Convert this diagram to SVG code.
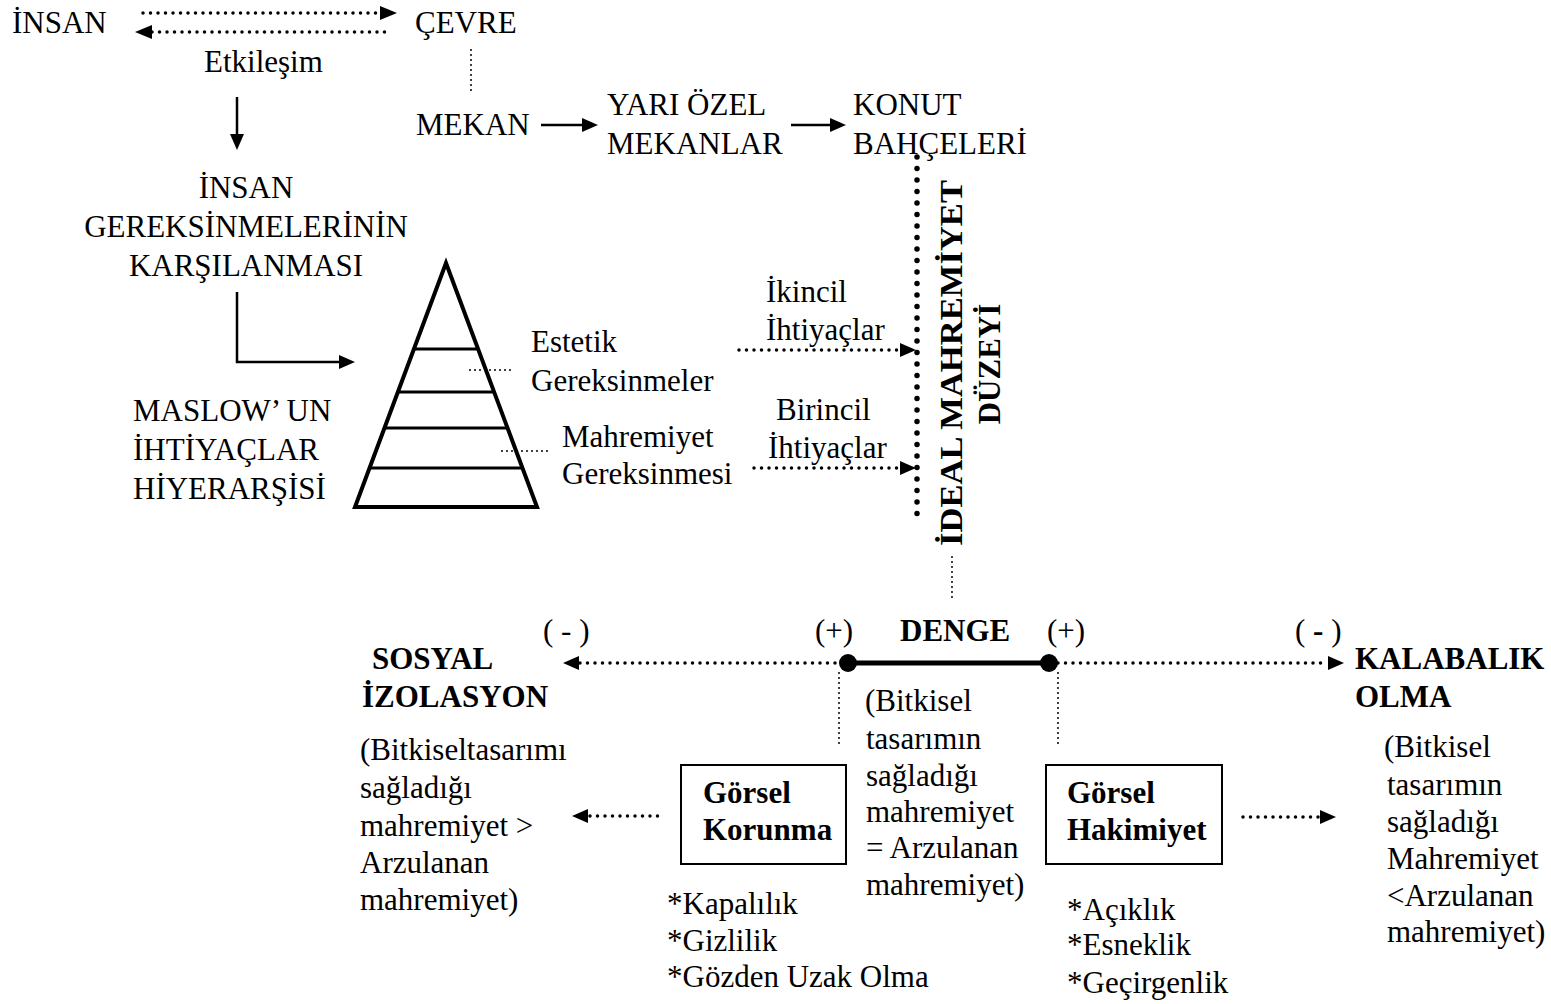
<svg xmlns="http://www.w3.org/2000/svg" width="1551" height="1004" viewBox="0 0 1551 1004">
<style>
text{font-family:"Liberation Serif","Times New Roman",serif;font-size:31px;fill:#000}
.b{font-weight:bold}
.dot{fill:none;stroke:#000;stroke-width:3.5;stroke-dasharray:0 7.5;stroke-linecap:round}
.fine{fill:none;stroke:#000;stroke-width:2;stroke-dasharray:0 5;stroke-linecap:round}
.big{fill:none;stroke:#000;stroke-width:5.5;stroke-dasharray:0 11.5;stroke-linecap:round}
.sol{fill:none;stroke:#000;stroke-width:2.5}
.thick{fill:none;stroke:#000;stroke-width:5}
.head{fill:#000}
.box{fill:#fff;stroke:#000;stroke-width:2}
.tier{stroke:#000;stroke-width:3}
</style>
<rect width="1551" height="1004" fill="#fff"/>
<g id="connectors">
  <line class="dot" x1="143" y1="13" x2="381" y2="13"/>
  <polygon class="head" points="397,13 380,6 380,20"/>
  <line class="dot" x1="152" y1="32" x2="391" y2="32"/>
  <polygon class="head" points="135,32 152,25 152,39"/>
  <line class="fine" x1="471" y1="50" x2="471" y2="93"/>
  <line class="sol" x1="237" y1="97" x2="237" y2="136"/>
  <polygon class="head" points="237,150 230,134 244,134"/>
  <line class="sol" x1="541" y1="125" x2="584" y2="125"/>
  <polygon class="head" points="598,125 582,118 582,132"/>
  <line class="sol" x1="791" y1="125" x2="832" y2="125"/>
  <polygon class="head" points="846,125 830,118 830,132"/>
  <path class="sol" d="M237,292 V362 H340"/>
  <polygon class="head" points="355,362 339,355 339,369"/>
  <line class="fine" x1="470" y1="370" x2="512" y2="370"/>
  <line class="fine" x1="502" y1="451" x2="552" y2="451"/>
  <line class="dot" x1="739" y1="350" x2="899" y2="350"/>
  <polygon class="head" points="916,350 900,343 900,357"/>
  <line class="dot" x1="754" y1="468" x2="899" y2="468"/>
  <polygon class="head" points="916,468 900,461 900,475"/>
  <line class="big" x1="917" y1="157" x2="917" y2="514"/>
  <line class="fine" x1="952" y1="557" x2="952" y2="598"/>
  <line class="dot" x1="580" y1="663" x2="846" y2="663"/>
  <polygon class="head" points="563,663 579,656 579,670"/>
  <line class="thick" x1="848" y1="663" x2="1049" y2="663"/>
  <circle class="head" cx="848" cy="663" r="9"/>
  <circle class="head" cx="1049" cy="663" r="9"/>
  <line class="dot" x1="1058" y1="663" x2="1327" y2="663"/>
  <polygon class="head" points="1344,663 1328,656 1328,670"/>
  <line class="fine" x1="839" y1="673" x2="839" y2="746"/>
  <line class="fine" x1="1058" y1="673" x2="1058" y2="746"/>
  <line class="dot" x1="590" y1="816" x2="660" y2="816"/>
  <polygon class="head" points="572,816 588,809 588,823"/>
  <line class="dot" x1="1243" y1="817" x2="1319" y2="817"/>
  <polygon class="head" points="1336,817 1320,810 1320,824"/>
</g>
<g id="insan"><text x="12" y="33">İNSAN</text></g>
<g id="cevre"><text x="415" y="33">ÇEVRE</text></g>
<g id="etkilesim"><text x="204" y="72">Etkileşim</text></g>
<g id="mekan"><text x="416" y="135">MEKAN</text></g>
<g id="yari-ozel"><text x="607" y="115">YARI ÖZEL</text><text x="607" y="154">MEKANLAR</text></g>
<g id="konut"><text x="853" y="115">KONUT</text><text x="853" y="154">BAHÇELERİ</text></g>
<g id="insan-gereksinmeleri">
  <text x="246" y="198" text-anchor="middle">İNSAN</text>
  <text x="246" y="237" text-anchor="middle">GEREKSİNMELERİNİN</text>
  <text x="246" y="276" text-anchor="middle">KARŞILANMASI</text>
</g>
<g id="maslow">
  <text x="133" y="421">MASLOW’ UN</text>
  <text x="133" y="460">İHTİYAÇLAR</text>
  <text x="133" y="499">HİYERARŞİSİ</text>
</g>
<g id="pyramid">
  <polygon points="446,263 355,507 537,507" fill="none" stroke="#000" stroke-width="4" stroke-linejoin="miter"/>
  <line class="tier" x1="414" y1="349" x2="478" y2="349"/>
  <line class="tier" x1="398" y1="392" x2="494" y2="392"/>
  <line class="tier" x1="385" y1="428" x2="507" y2="428"/>
  <line class="tier" x1="370" y1="468" x2="522" y2="468"/>
</g>
<g id="estetik"><text x="531" y="352">Estetik</text><text x="531" y="391">Gereksinmeler</text></g>
<g id="mahremiyet-gereksinmesi"><text x="562" y="447">Mahremiyet</text><text x="562" y="484">Gereksinmesi</text></g>
<g id="ikincil"><text x="766" y="302">İkincil</text><text x="766" y="340">İhtiyaçlar</text></g>
<g id="birincil"><text x="776" y="420">Birincil</text><text x="768" y="458">İhtiyaçlar</text></g>
<g id="ideal">
  <text class="b" transform="translate(962,363) rotate(-90)" text-anchor="middle" textLength="366" lengthAdjust="spacingAndGlyphs">İDEAL MAHREMİYET</text>
  <text class="b" transform="translate(1000,364) rotate(-90)" text-anchor="middle">DÜZEYİ</text>
</g>
<g id="denge">
  <text x="543" y="641">( - )</text>
  <text x="815" y="641">(+)</text>
  <text class="b" x="900" y="641">DENGE</text>
  <text x="1047" y="641">(+)</text>
  <text x="1295" y="641">( <tspan class="b">-</tspan> )</text>
</g>
<g id="sosyal-izolasyon">
  <text class="b" x="372" y="669">SOSYAL</text>
  <text class="b" x="362" y="707">İZOLASYON</text>
</g>
<g id="kalabalik">
  <text class="b" x="1355" y="669">KALABALIK</text>
  <text class="b" x="1355" y="707">OLMA</text>
</g>
<g id="left-desc">
  <text x="360" y="760">(Bitkiseltasarımı</text>
  <text x="360" y="798">sağladığı</text>
  <text x="360" y="836">mahremiyet &gt;</text>
  <text x="360" y="873">Arzulanan</text>
  <text x="360" y="910">mahremiyet)</text>
</g>
<g id="center-desc">
  <text x="865" y="711">(Bitkisel</text>
  <text x="866" y="749">tasarımın</text>
  <text x="866" y="786">sağladığı</text>
  <text x="866" y="822">mahremiyet</text>
  <text x="866" y="858">= Arzulanan</text>
  <text x="866" y="895">mahremiyet)</text>
</g>
<g id="right-desc">
  <text x="1384" y="757">(Bitkisel</text>
  <text x="1387" y="795">tasarımın</text>
  <text x="1387" y="832">sağladığı</text>
  <text x="1387" y="869">Mahremiyet</text>
  <text x="1387" y="906">&lt;Arzulanan</text>
  <text x="1387" y="942">mahremiyet)</text>
</g>
<g id="gorsel-korunma">
  <rect class="box" x="681" y="765" width="165" height="99"/>
  <text class="b" x="703" y="803">Görsel</text>
  <text class="b" x="703" y="840">Korunma</text>
</g>
<g id="gorsel-hakimiyet">
  <rect class="box" x="1046" y="765" width="176" height="99"/>
  <text class="b" x="1067" y="803">Görsel</text>
  <text class="b" x="1067" y="840">Hakimiyet</text>
</g>
<g id="korunma-list">
  <text x="667" y="914">*Kapalılık</text>
  <text x="667" y="951">*Gizlilik</text>
  <text x="667" y="987">*Gözden Uzak Olma</text>
</g>
<g id="hakimiyet-list">
  <text x="1067" y="920">*Açıklık</text>
  <text x="1067" y="955">*Esneklik</text>
  <text x="1067" y="993">*Geçirgenlik</text>
</g>
</svg>
